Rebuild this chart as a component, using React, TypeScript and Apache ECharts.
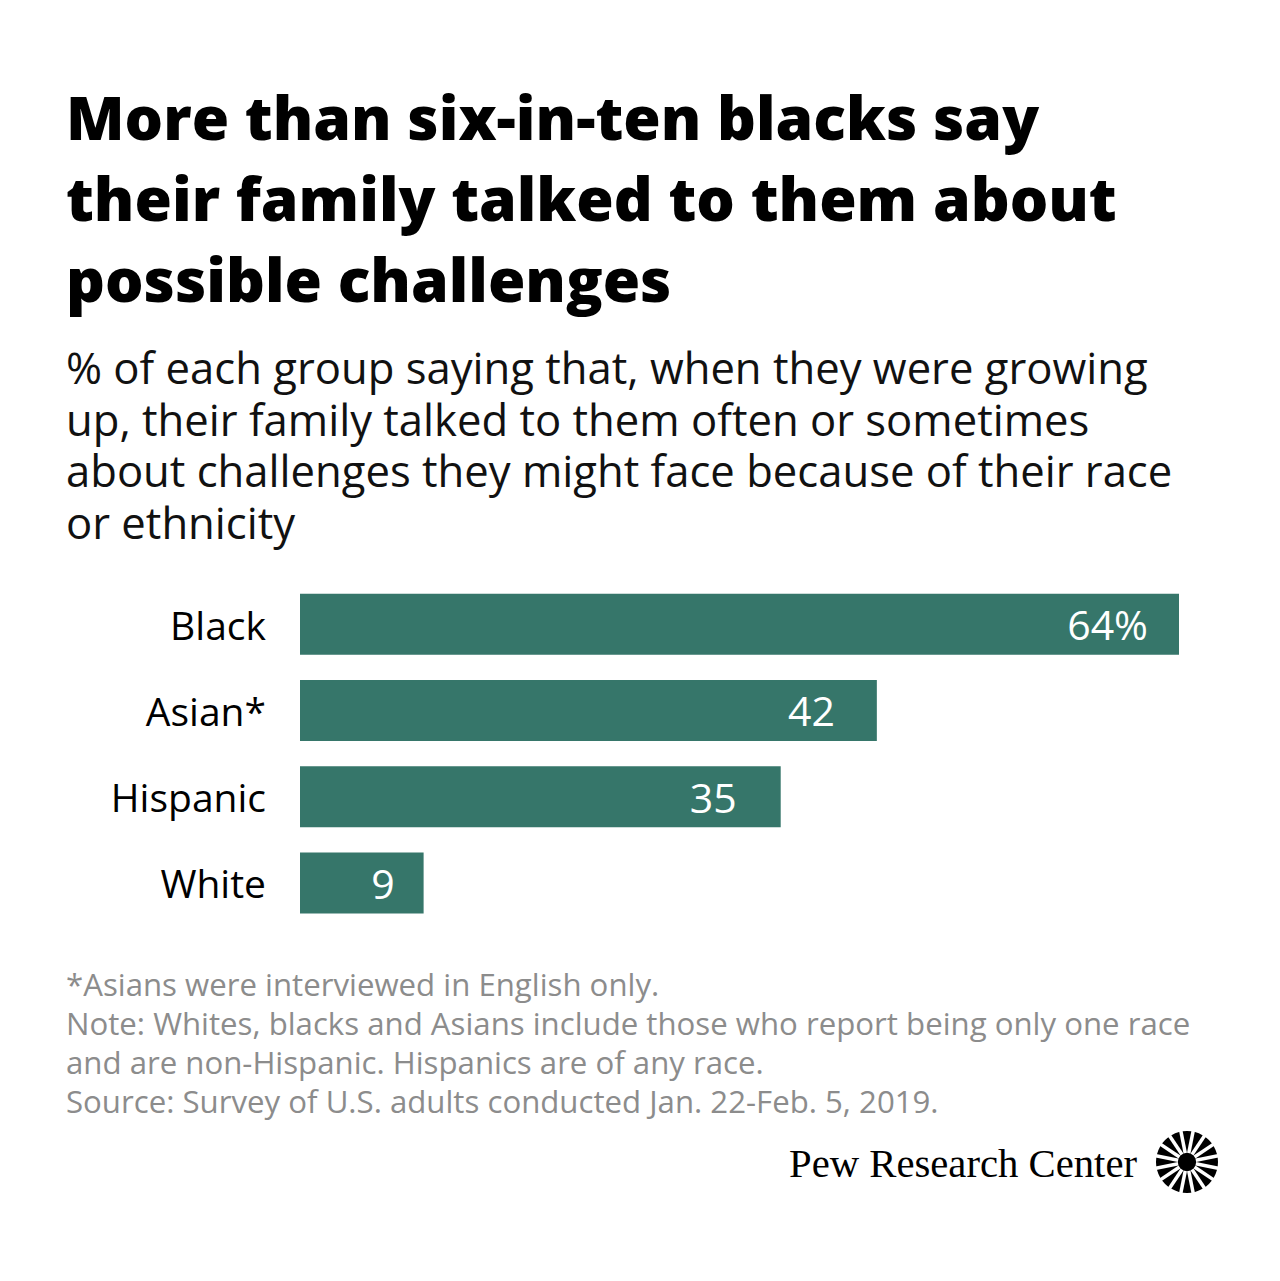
import React, { useEffect, useRef } from "react";
import * as echarts from "echarts";

const categories = ["Black", "Asian*", "Hispanic", "White"];
const values = [64, 42, 35, 9];
const titleLines = [
  "More than six-in-ten blacks say",
  "their family talked to them about",
  "possible challenges",
];
const subtitleLines = [
  "% of each group saying that, when they were growing",
  "up, their family talked to them often or sometimes",
  "about challenges they might face because of their race",
  "or ethnicity",
];
const noteLines = [
  "*Asians were interviewed in English only.",
  "Note: Whites, blacks and Asians include those who report being only one race",
  "and are non-Hispanic. Hispanics are of any race.",
  "Source: Survey of U.S. adults conducted Jan. 22-Feb. 5, 2019.",
];

const labelGaps = [31, 42, 44, 29];
const BAR = "#36766a";
const SANS = "'Open Sans', 'Noto Sans', sans-serif";

export default function App() {
  const ref = useRef<HTMLDivElement>(null);
  useEffect(() => {
    document.body.style.margin = "0";
    const chart = echarts.init(ref.current!, null, { renderer: "svg" });

    const graphics: any[] = [];
    graphics.push({
      type: "text",
      x: 66,
      y: 75.5,
      style: {
        text: titleLines.join("\n"),
        fill: "#000",
        font: `800 60.6px ${SANS}`,
        lineHeight: 81,
        verticalAlign: "top",
      },
    });
    graphics.push({
      type: "text",
      x: 66,
      y: 341.25,
      style: {
        text: subtitleLines.join("\n"),
        fill: "#111",
        font: `400 43.6px ${SANS}`,
        lineHeight: 51.5,
        verticalAlign: "top",
      },
    });
    graphics.push({
      type: "text",
      x: 66,
      y: 964.5,
      style: {
        text: noteLines.join("\n"),
        fill: "#8c8c8c",
        font: `400 31.2px ${SANS}`,
        lineHeight: 39,
        verticalAlign: "top",
      },
    });
    graphics.push({
      type: "text",
      x: 1137,
      y: 1163,
      style: {
        text: "Pew Research Center",
        fill: "#000",
        font: `400 40.7px 'Liberation Serif', 'DejaVu Serif', serif`,
        align: "right",
        verticalAlign: "middle",
      },
    });
    // logo
    const cx = 1187;
    const cy = 1162;
    const logo: any[] = [
      { type: "circle", shape: { cx, cy, r: 31 }, style: { fill: "#000" } },
    ];
    const rays = 16;
    for (let k = 0; k < rays; k++) {
      const a = (k * 2 * Math.PI) / rays + Math.PI / rays;
      logo.push({
        type: "line",
        shape: {
          x1: cx + Math.cos(a) * 9,
          y1: cy + Math.sin(a) * 9,
          x2: cx + Math.cos(a) * 33,
          y2: cy + Math.sin(a) * 33,
        },
        style: { stroke: "#fff", lineWidth: 3.5 },
      });
    }
    logo.push({ type: "circle", shape: { cx, cy, r: 8 }, style: { fill: "#000" } });
    graphics.push(...logo);

    chart.setOption({
      animation: false,
      backgroundColor: "#fff",
      grid: { left: 300, top: 581, width: 879, height: 345, containLabel: false },
      xAxis: {
        type: "value",
        min: 0,
        max: 64,
        show: false,
      },
      yAxis: {
        type: "category",
        data: categories,
        inverse: true,
        axisLine: { show: false },
        axisTick: { show: false },
        splitLine: { show: false },
        axisLabel: {
          margin: 34,
          fontSize: 39,
          color: "#000",
          fontFamily: SANS,
        },
      },
      series: [
        {
          type: "bar",
          barWidth: 61,
          itemStyle: { color: BAR },
          data: values.map((v, i) => ({
            value: v,
            label: { distance: labelGaps[i] },
          })),
          label: {
            show: true,
            position: "insideRight",
            color: "#fff",
            fontSize: 41,
            fontFamily: SANS,
            formatter: (p: any) => (p.dataIndex === 0 ? `${p.value}%` : `${p.value}`),
          },
        },
      ],
      graphic: graphics,
    });
    return () => chart.dispose();
  }, []);
  return <div ref={ref} style={{ width: 1280, height: 1281 }} />;
}
